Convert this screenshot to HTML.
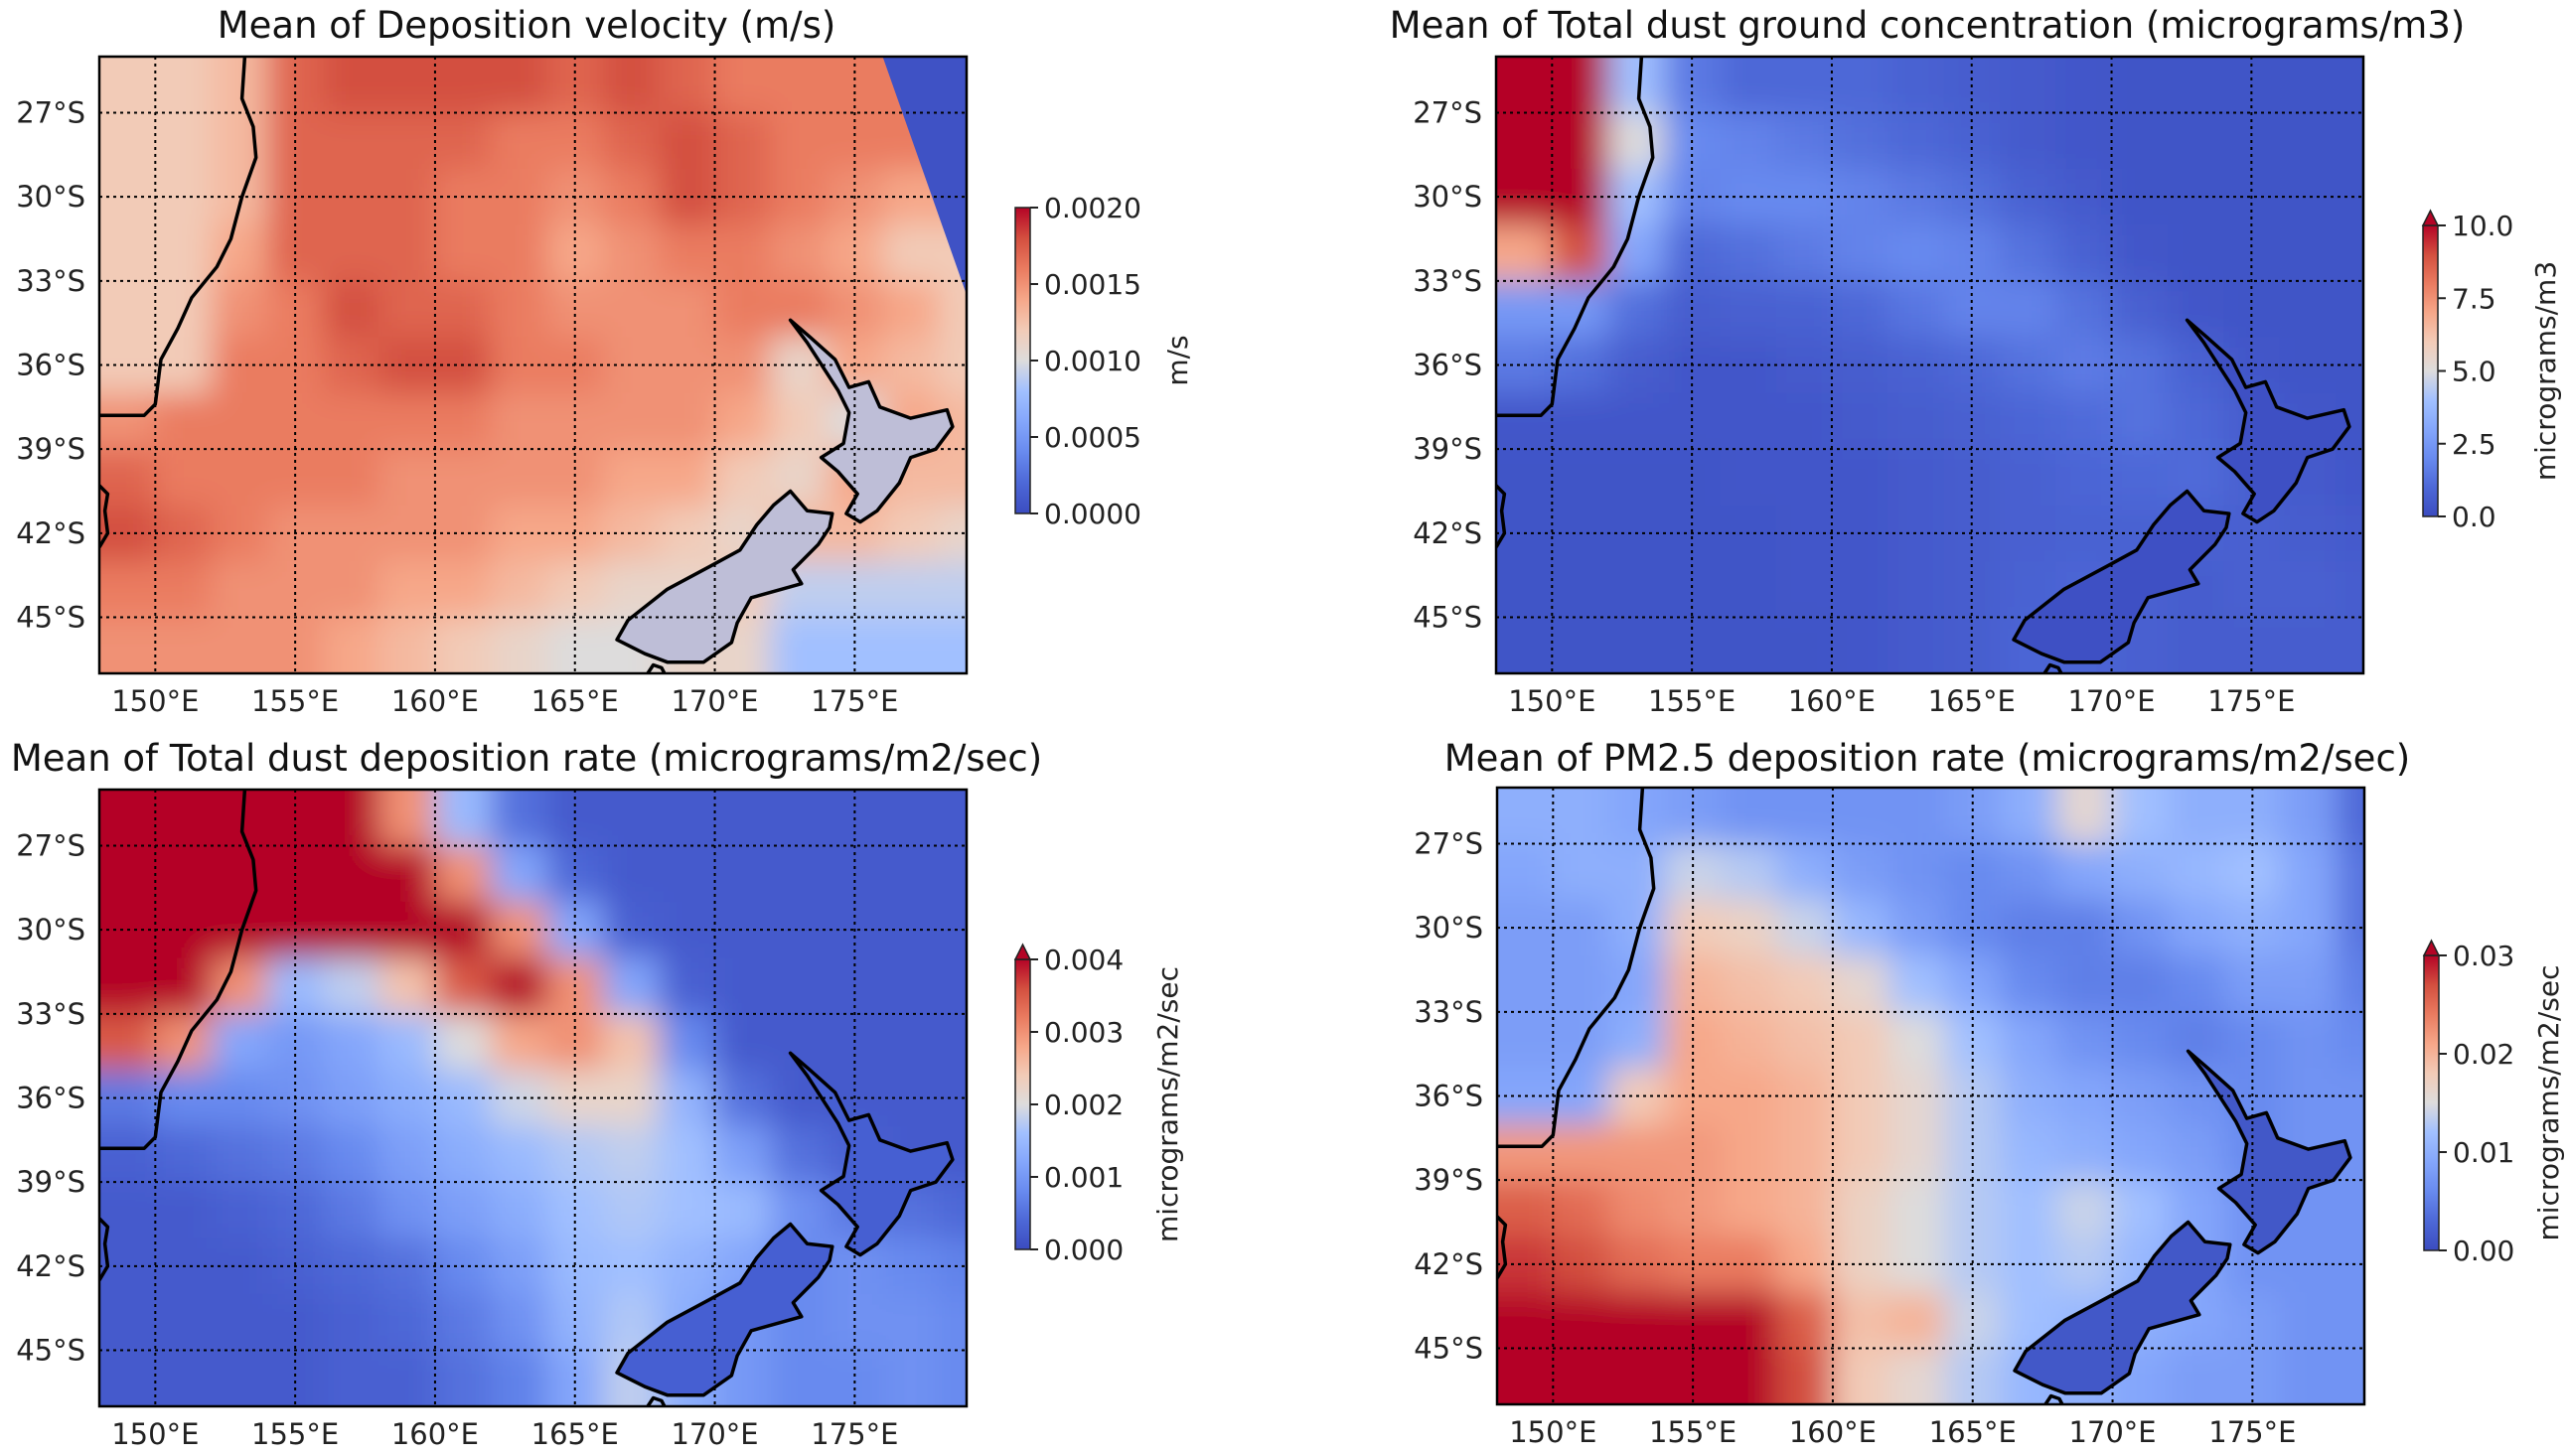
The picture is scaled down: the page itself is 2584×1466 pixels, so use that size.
<!DOCTYPE html>
<html><head><meta charset="utf-8">
<style>
html,body{margin:0;padding:0;background:#fff;}
svg{display:block;font-family:"DejaVu Sans","Liberation Sans",sans-serif;}
</style></head>
<body>
<svg id="fig" width="2584" height="1466" viewBox="0 0 2584 1466" xmlns="http://www.w3.org/2000/svg">
<defs>
<filter id="blur" x="-10%" y="-10%" width="120%" height="120%"><feGaussianBlur stdDeviation="16"/></filter>
</defs>
</svg>
<script>
// Grid cells: lon 148..178 step 2 (16 cols), lat -25..-45 step 2 (11 rows, cell top)
const lonCells=[148,150,152,154,156,158,160,162,164,166,168,170,172,174,176,178];
const latCells=[-25,-27,-29,-31,-33,-35,-37,-39,-41,-43,-45];
const lonTicks=[150,155,160,165,170,175];
const latTicks=[-27,-30,-33,-36,-39,-42,-45];
const lonTickLabels=["150°E","155°E","160°E","165°E","170°E","175°E"];
const latTickLabels=["27°S","30°S","33°S","36°S","39°S","42°S","45°S"];

// Panel 1: deposition velocity (×1e-4 m/s)
const velocity=[
[12,12,13,17,18,18,18,18,17,18,17,16,16,16,16,16],
[12,12,13,17,17,17,17,16,16,17,18,17,16,16,16,16],
[12,12,13,17,17,17,16,16,15,16,18,17,16,15,14,14],
[12,12,14,17,17,17,16,16,14,15,16,16,15,14,12,12],
[12,12,15,16,18,17,17,16,15,15,15,16,16,15,14,12],
[12,12,16,16,17,18,18,16,16,15,15,15,11,14,13,12],
[15,16,16,16,16,16,16,15,15,15,15,14,12,10,14,13],
[17,16,16,16,16,15,15,15,15,14,14,12,11,14,13,13],
[18,17,16,15,15,15,15,14,14,13,12,11,13,13,12,11],
[16,16,15,15,15,14,14,13,12,11,11,12,9,9,9,9],
[15,15,15,15,14,13,12,11,10,10,11,11,8,8,8,8]];
// Panel 2: dust ground concentration (micrograms/m3)
const concentration=[
[14,14,4,1.5,1,1,1,0.8,0.6,0.5,0.4,0.3,0.3,0.3,0.3,0.3],
[14,14,5,2,1.8,1.5,1.2,1,0.8,0.5,0.4,0.3,0.3,0.3,0.3,0.3],
[12,12,4,1.8,2,2,1.8,1.5,1.2,0.8,0.5,0.3,0.3,0.3,0.3,0.3],
[7,9,3,1,1.2,1.5,1.8,2,1.8,1.3,0.8,0.4,0.3,0.3,0.3,0.3],
[2.5,2.5,1.2,0.6,0.7,0.8,1,1.4,1.8,1.8,1.3,0.7,0.4,0.3,0.3,0.3],
[1.5,1.2,0.6,0.4,0.4,0.5,0.6,0.8,1,1.3,1.6,1.3,0.8,0.4,0.3,0.3],
[0.4,0.4,0.4,0.4,0.4,0.4,0.5,0.6,0.7,0.9,1.1,1.3,1,0.6,0.4,0.3],
[0.3,0.3,0.3,0.3,0.4,0.4,0.4,0.5,0.6,0.7,0.9,1,1.1,0.7,0.5,0.4],
[0.3,0.3,0.3,0.3,0.3,0.4,0.4,0.5,0.6,0.7,0.8,0.8,0.8,0.7,0.6,0.5],
[0.3,0.3,0.3,0.3,0.3,0.4,0.4,0.5,0.6,0.8,0.9,0.7,0.6,0.7,0.7,0.6],
[0.3,0.3,0.3,0.3,0.3,0.3,0.4,0.5,0.6,0.9,0.9,0.7,0.6,0.6,0.6,0.6]];
// Panel 3: dust deposition rate (×1e-3 micrograms/m2/sec)
const dustDep=[
[5,5,5,5,4.5,3,1.5,0.5,0.2,0.2,0.2,0.2,0.2,0.2,0.2,0.2],
[5,5,5,5,5,4.5,3,1.2,0.4,0.2,0.2,0.2,0.2,0.2,0.2,0.2],
[5,5,5,4.5,5,5,4.5,3,1.2,0.3,0.2,0.2,0.2,0.2,0.2,0.2],
[5,5,3,1.5,1.8,2.5,3.5,4,3,1.2,0.3,0.2,0.2,0.2,0.2,0.2],
[3.5,3,1.2,1,1.2,1.5,2,2.8,3,2.5,0.8,0.2,0.2,0.2,0.2,0.2],
[0.6,0.8,0.8,0.9,1.1,1.3,1.5,1.9,2.2,2.2,1.4,0.5,0.2,0.2,0.2,0.2],
[0.3,0.4,0.5,0.6,0.8,1.1,1.3,1.5,1.7,1.8,1.6,1.1,0.5,0.3,0.2,0.2],
[0.2,0.2,0.3,0.4,0.6,0.9,1.1,1.3,1.6,1.7,1.6,1.5,0.9,0.6,0.5,0.4],
[0.2,0.2,0.2,0.3,0.4,0.5,0.8,1.1,1.5,1.6,1.4,1.2,0.8,0.9,0.8,0.7],
[0.2,0.2,0.2,0.2,0.3,0.4,0.6,0.9,1.4,1.7,1.3,1,0.8,0.9,0.9,0.8],
[0.2,0.2,0.2,0.2,0.3,0.3,0.5,0.7,1.2,1.8,1.3,1,0.8,0.8,0.9,0.8]];
// Panel 4: PM2.5 deposition rate (×1e-3 micrograms/m2/sec)
const pmDep=[
[10,10,9,8,7,7,7,7,8,10,16,12,10,10,8,3],
[9,10,10,14,13,10,8,7,6,7,9,10,11,12,9,4],
[8,8,10,18,17,14,11,8,6,5,5,7,9,10,9,4],
[8,8,9,20,19,18,16,12,9,6,5,5,6,8,8,5],
[8,8,10,21,20,19,18,15,12,9,7,6,5,6,7,6],
[9,9,18,21,21,20,18,16,13,10,9,8,7,6,7,7],
[22,22,22,22,21,20,18,16,13,11,10,9,8,6,7,7],
[26,25,23,22,21,20,17,15,13,12,14,12,9,7,7,7],
[28,27,25,24,24,21,17,15,13,12,13,11,9,7,7,7],
[32,32,32,32,32,26,19,20,14,12,11,10,9,8,7,7],
[32,32,32,32,32,27,18,16,13,11,10,9,8,8,7,7]];

const cbTicks1=[0,5,10,15,20], cbLabels1=["0.0000","0.0005","0.0010","0.0015","0.0020"];
const cbTicks2=[0,2.5,5,7.5,10], cbLabels2=["0.0","2.5","5.0","7.5","10.0"];
const cbTicks3=[0,1,2,3,4], cbLabels3=["0.000","0.001","0.002","0.003","0.004"];
const cbTicks4=[0,10,20,30], cbLabels4=["0.00","0.01","0.02","0.03"];

// coastlines (lon, lat)
const ausCoast=[[153.2,-25],[153.1,-26.5],[153.5,-27.5],[153.6,-28.6],[153.1,-30],[152.7,-31.5],[152.2,-32.5],[151.3,-33.6],[150.8,-34.7],[150.2,-35.8],[150,-37.4],[149.6,-37.8],[148,-37.8]];
const tasCoast=[[148,-40.3],[148.3,-40.6],[148.2,-41.2],[148.3,-42],[148,-42.5]];
const nzNorth=[[172.7,-34.4],[173.4,-35],[174.3,-35.8],[174.8,-36.8],[175.5,-36.6],[175.9,-37.5],[177,-37.9],[178.3,-37.6],[178.5,-38.2],[177.9,-39],[177,-39.3],[176.6,-40.2],[175.8,-41.2],[175.2,-41.6],[174.7,-41.3],[175.1,-40.6],[174.4,-39.8],[173.8,-39.3],[174.6,-38.8],[174.8,-37.7],[174.4,-36.9],[173.3,-35.2],[172.7,-34.4]];
const nzSouth=[[172.7,-40.5],[173.3,-41.2],[174.2,-41.3],[174.1,-41.8],[173.7,-42.4],[172.8,-43.3],[173.1,-43.8],[171.3,-44.3],[170.8,-45.2],[170.6,-45.9],[169.6,-46.6],[168.3,-46.6],[167.5,-46.3],[166.5,-45.8],[166.9,-45.1],[168.3,-44],[169.8,-43.2],[170.9,-42.6],[171.5,-41.7],[172.1,-41],[172.7,-40.5]];
const stewart=[[167.6,-47],[167.8,-46.7],[168.1,-46.8],[168.2,-47]];

const svg=document.getElementById('fig');
const NS='http://www.w3.org/2000/svg';
function mk(tag,attrs,parent){const e=document.createElementNS(NS,tag);for(const k in attrs)e.setAttribute(k,attrs[k]);(parent||svg).appendChild(e);return e;}

const cmapStops=[[0,[59,76,192]],[0.1,[77,104,215]],[0.2,[104,138,239]],[0.3,[132,166,251]],[0.4,[161,192,255]],[0.5,[221,220,220]],[0.6,[242,203,183]],[0.7,[246,167,137]],[0.8,[234,123,96]],[0.9,[211,79,63]],[1,[180,4,38]]];
function cmap(t){t=Math.max(0,Math.min(1,t));for(let i=1;i<cmapStops.length;i++){if(t<=cmapStops[i][0]){const a=cmapStops[i-1],b=cmapStops[i];const f=(t-a[0])/(b[0]-a[0]);return 'rgb('+a[1].map((v,j)=>Math.round(v+(b[1][j]-v)*f)).join(',')+')';}}return 'rgb(180,4,38)';}

const panels=[
{id:'velocity',data:velocity,vmax:20,x0:100,y0:57,title:'Mean of Deposition velocity (m/s)',tx:530,ty:38,cb:{x:1022,y0:209,y1:517,ext:false,ticks:cbTicks1,labels:cbLabels1,label:'m/s',lx:1195},nzFill:'rgb(190,190,215)',mask:true},
{id:'concentration',data:concentration,vmax:10,x0:1506,y0:57,title:'Mean of Total dust ground concentration (micrograms/m3)',tx:1940,ty:38,cb:{x:2439,y0:227,y1:520,ext:true,ticks:cbTicks2,labels:cbLabels2,label:'micrograms/m3',lx:2572},nzFill:'rgb(62,80,196)'},
{id:'dust-deposition',data:dustDep,vmax:4,x0:100,y0:795,title:'Mean of Total dust deposition rate (micrograms/m2/sec)',tx:530,ty:776,cb:{x:1022,y0:966,y1:1258,ext:true,ticks:cbTicks3,labels:cbLabels3,label:'micrograms/m2/sec',lx:1185},nzFill:'rgb(70,95,210)'},
{id:'pm25-deposition',data:pmDep,vmax:30,x0:1507,y0:793,title:'Mean of PM2.5 deposition rate (micrograms/m2/sec)',tx:1940,ty:776,cb:{x:2440,y0:962,y1:1259,ext:true,ticks:cbTicks4,labels:cbLabels4,label:'micrograms/m2/sec',lx:2575},nzFill:'rgb(66,88,200)'}];
const W=873,H=621,LON0=148,LON1=179,LAT0=-25,LAT1=-47;

panels.forEach((p,pi)=>{
  const xs=lon=>p.x0+(lon-LON0)/(LON1-LON0)*W;
  const ys=lat=>p.y0+(LAT0-lat)/(LAT0-LAT1)*H;
  const g=mk('g',{});
  
  
  const cid='clip'+pi;
  const cp=mk('clipPath',{id:cid},svg.querySelector('defs'));
  mk('rect',{x:p.x0,y:p.y0,width:W,height:H},cp);
  const mapG=mk('g',{'clip-path':'url(#'+cid+')'},g);
  
  
  const field=mk('g',{filter:'url(#blur)'},mapG);
  p.data.forEach((row,ri)=>{row.forEach((v,ci)=>{
    let xa=xs(lonCells[ci]),xb=xs(Math.min(lonCells[ci]+2,LON1)),ya=ys(latCells[ri]),yb=ys(Math.max(latCells[ri]-2,LAT1));
    if(ci===0)xa-=60; if(ci===lonCells.length-1)xb+=60; if(ri===0)ya-=60; if(ri===latCells.length-1)yb+=60;
    const r=mk('rect',{x:xa,y:ya,width:xb-xa+0.5,height:yb-ya+0.5,fill:cmap(v/p.vmax)},field);
    
    
  });});
  const line=pts=>pts.map((q,i)=>(i?'L':'M')+xs(q[0]).toFixed(1)+' '+ys(q[1]).toFixed(1)).join(' ');
  if(p.mask){
    const m=mk('path',{d:line([[176,-25],[179.5,-25],[179.5,-33.5],[179,-33.5]])+'Z',fill:cmap(0.02)},mapG);
    
    
  }
  [nzNorth,nzSouth].forEach((c,k)=>{
    const e=mk('path',{d:line(c)+'Z',fill:p.nzFill,stroke:'#000','stroke-width':3.5,'stroke-linejoin':'round'},mapG);
    
    
  });
  [ausCoast,tasCoast,stewart].forEach(c=>{
    const e=mk('path',{d:line(c),fill:'none',stroke:'#000','stroke-width':3.5,'stroke-linejoin':'round'},mapG);
    
    
  });
  lonTicks.forEach((lon,i)=>{
    const l=mk('line',{x1:xs(lon),x2:xs(lon),y1:p.y0,y2:p.y0+H,stroke:'#000','stroke-width':2,'stroke-dasharray':'3,4'},mapG);
    
    
    const t=mk('text',{x:xs(lon),y:p.y0+H+38,'font-size':29,'text-anchor':'middle',fill:'#222'},g);
    t.textContent=lonTickLabels[i];
    
    
  });
  latTicks.forEach((lat,i)=>{
    const l=mk('line',{x1:p.x0,x2:p.x0+W,y1:ys(lat),y2:ys(lat),stroke:'#000','stroke-width':2,'stroke-dasharray':'3,4'},mapG);
    
    
    const t=mk('text',{x:p.x0-14,y:ys(lat)+10,'font-size':29,'text-anchor':'end',fill:'#222'},g);
    t.textContent=latTickLabels[i];
    
    
  });
  const fr=mk('rect',{x:p.x0,y:p.y0,width:W,height:H,fill:'none',stroke:'#000','stroke-width':2.5},g);
  
  
  const tt=mk('text',{x:p.tx,y:p.ty,'font-size':37,'text-anchor':'middle',fill:'#111'},g);
  tt.textContent=p.title;
  
  
  // colorbar
  const cb=p.cb, cw=15, vmax=p.vmax;
  const cgid='cbg'+pi;
  const lg=mk('linearGradient',{id:cgid,x1:0,y1:1,x2:0,y2:0},svg.querySelector('defs'));
  for(let i=0;i<=10;i++)mk('stop',{offset:i/10,'stop-color':cmap(i/10)},lg);
  const cr=mk('rect',{x:cb.x,y:cb.y0,width:cw,height:cb.y1-cb.y0,fill:'url(#'+cgid+')',stroke:'#222','stroke-width':1.5},g);
  
  
  if(cb.ext){
    const tr=mk('path',{d:`M${cb.x} ${cb.y0} L${cb.x+cw/2} ${cb.y0-15} L${cb.x+cw} ${cb.y0} Z`,fill:'rgb(180,4,38)',stroke:'#222','stroke-width':1.5},g);
    
    
  }
  const cys=v=>cb.y1-(v/vmax)*(cb.y1-cb.y0);
  cb.ticks.forEach((v,i)=>{
    const tk=mk('line',{x1:cb.x+cw,x2:cb.x+cw+8,y1:cys(v),y2:cys(v),stroke:'#222','stroke-width':2},g);
    
    
    const t=mk('text',{x:cb.x+cw+14,y:cys(v)+10,'font-size':28,fill:'#222'},g);
    t.textContent=cb.labels[i];
    
    
  });
  const cl=mk('text',{x:cb.lx,y:(cb.y0+cb.y1)/2,'font-size':28,'text-anchor':'middle',fill:'#222',transform:`rotate(-90 ${cb.lx} ${(cb.y0+cb.y1)/2})`},g);
  cl.textContent=cb.label;
  
  
});
</script>
</body></html>
